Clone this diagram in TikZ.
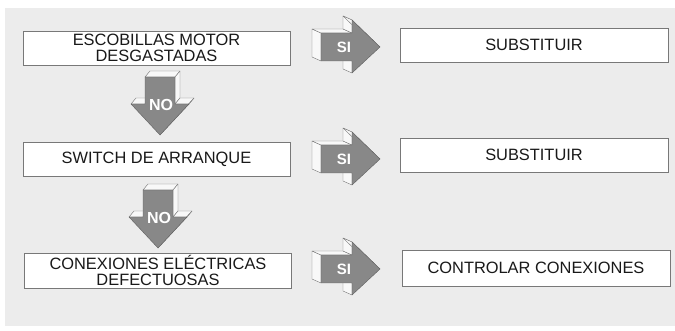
\documentclass[tikz,border=0pt]{standalone}
\usepackage{fontspec}
\setmainfont{Liberation Sans}
\definecolor{bgc}{RGB}{236,236,236}
\definecolor{facec}{RGB}{136,136,136}
\definecolor{sidec}{RGB}{248,248,248}
\definecolor{edgec}{RGB}{120,120,120}
\definecolor{txtc}{RGB}{25,25,25}
\tikzset{
  box/.style={draw=edgec, line width=0.7pt, fill=white, text=txtc, align=center,
    inner sep=0pt, font=\fontsize{16.4}{16}\selectfont},
  sideface/.style={fill=sidec, draw=edgec, line width=0.4pt, line join=round},
  frontface/.style={fill=facec, draw=edgec!80!black, line width=0.4pt, line join=round},
  arrowlabel/.style={text=white, inner sep=0pt, font=\bfseries\fontsize{15}{15}\selectfont}
}
\newcommand\siarrow[3]{%
  \begin{scope}[shift={(#1,#2)}]
    \draw[sideface] (0,-14) -- (0,14) -- (-9,10) -- (-9,-18) -- cycle;
    \draw[sideface] (0,-14) -- (31,-14) -- (22,-18) -- (-9,-18) -- cycle;
    \draw[sideface] (31,-14) -- (31,-27) -- (22,-31) -- (22,-18) -- cycle;
    \draw[sideface] (31,-27) -- (59,0) -- (50,-4) -- (22,-31) -- cycle;
    \draw[sideface] (31,14) -- (31,26) -- (22,22) -- (22,10) -- cycle;
    \draw[frontface] (0,-14) -- (31,-14) -- (31,-27) -- (59,0) -- (31,26) -- (31,14) -- (0,14) -- cycle;
    \node[arrowlabel] (#3) at (23,0) {SI};
  \end{scope}}
\newcommand\noarrow[3]{%
  \begin{scope}[shift={(#1,#2)}]
    \draw[sideface] (-15,0) -- (15,0) -- (20,-6) -- (-10,-6) -- cycle;
    \draw[sideface] (15,0) -- (15,27) -- (20,21) -- (20,-6) -- cycle;
    \draw[sideface] (-29,27) -- (-15,27) -- (-10,21) -- (-24,21) -- cycle;
    \draw[sideface] (15,27) -- (29,27) -- (34,21) -- (20,21) -- cycle;
    \draw[sideface] (29,27) -- (0,58) -- (5,52) -- (34,21) -- cycle;
    \draw[frontface] (-15,0) -- (15,0) -- (15,27) -- (29,27) -- (0,58) -- (-29,27) -- (-15,27) -- cycle;
    \node[arrowlabel, font=\bfseries\fontsize{16}{16}\selectfont] (#3) at (1,28) {NO};
  \end{scope}}
\begin{document}
\begin{tikzpicture}[x=1pt,y=-1pt]
  \useasboundingbox (0,0) rectangle (675,331);
  \fill[bgc] (5,8) rectangle (675,326);

  % left column
  \node[box, minimum width=267pt, minimum height=34pt] (l1) at (156.5,48)
    {ESCOBILLAS MOTOR\\DESGASTADAS};
  \node[box, minimum width=267pt, minimum height=34pt] (l2) at (156.5,159)
    {SWITCH DE ARRANQUE};
  \node[box, minimum width=267pt, minimum height=35pt] (l3) at (158,270.5)
    {CONEXIONES ELÉCTRICAS\\DEFECTUOSAS};

  % right column
  \node[box, minimum width=268pt, minimum height=34pt] (r1) at (534,45)
    {SUBSTITUIR};
  \node[box, minimum width=268pt, minimum height=34pt] (r2) at (534,155)
    {SUBSTITUIR};
  \node[box, minimum width=268pt, minimum height=36pt] (r3) at (536,268)
    {CONTROLAR CONEXIONES};

  % SI arrows
  \siarrow{321}{47}{si1}
  \siarrow{321}{159}{si2}
  \siarrow{321}{269}{si3}

  % NO arrows
  \noarrow{160}{77}{no1}
  \noarrow{158}{190}{no2}
\end{tikzpicture}
\end{document}
